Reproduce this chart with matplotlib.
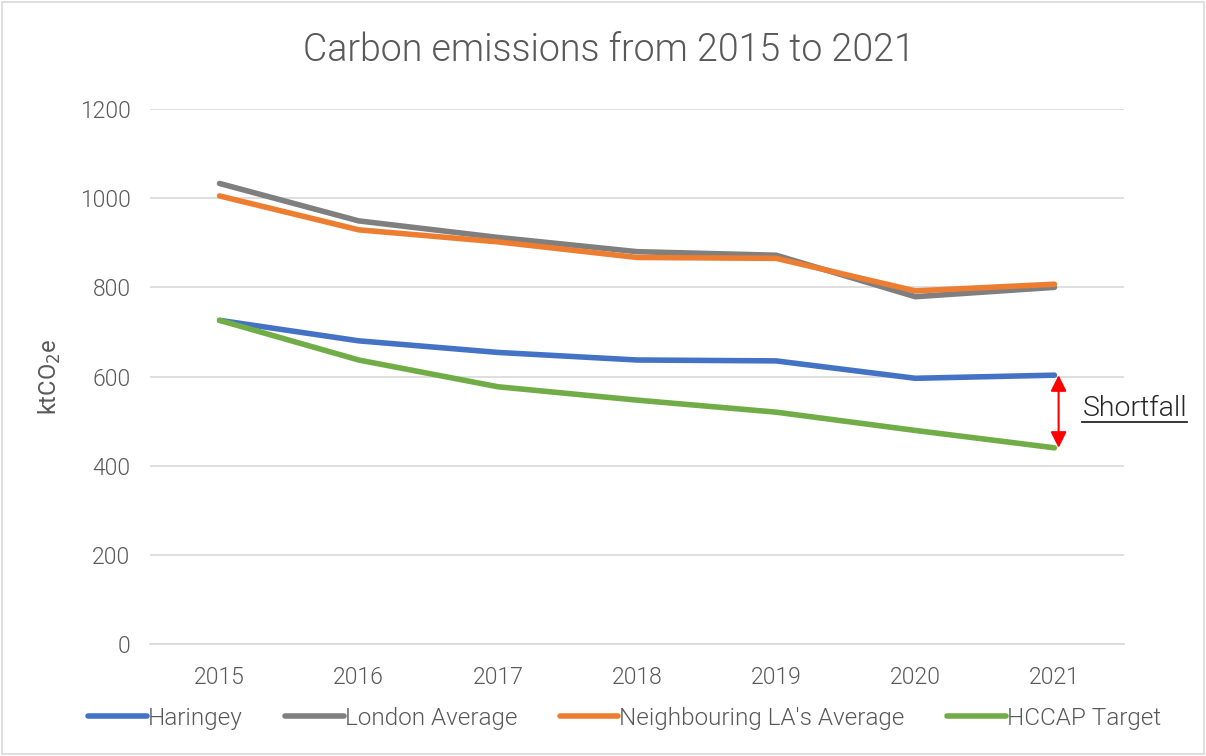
import matplotlib
matplotlib.use("Agg")
import matplotlib.pyplot as plt
from matplotlib.patches import Rectangle
from matplotlib.lines import Line2D

years = ["2015", "2016", "2017", "2018", "2019", "2020", "2021"]
haringey = [726, 680, 654, 637, 635, 596, 603]
london = [1033, 949, 912, 880, 872, 779, 800]
neighbouring = [1005, 929, 902, 867, 865, 792, 807]
hccap = [726, 637, 577, 547, 520, 479, 440]

series_names = ["Haringey", "London Average", "Neighbouring LA's Average", "HCCAP Target"]
colors = ["#4472C4", "#7F7F7F", "#ED7D31", "#70AD47"]
yticks = [0, 200, 400, 600, 800, 1000, 1200]

plt.rcParams['font.family'] = ['Roboto', 'Lato', 'DejaVu Sans']
plt.rcParams['font.weight'] = 300
txt = "#595959"

fig = plt.figure(figsize=(12.06, 7.56), dpi=100)
fig.patches.append(Rectangle((0.002, 0.002), 0.996, 0.996, transform=fig.transFigure,
                             fill=False, edgecolor="#d9d9d9", linewidth=1.2))
ax = fig.add_axes([150 / 1206, 1 - 644 / 756, (1124 - 150) / 1206, (644 - 109) / 756])

x = list(range(len(years)))
for vals, name, c in zip([haringey, london, neighbouring, hccap], series_names, colors):
    ax.plot(x, vals, color=c, linewidth=4.0, label=name, solid_capstyle='round')

ax.set_xlim(-0.5, len(years) - 0.5)
ax.set_ylim(0, 1200)
ax.set_yticks(yticks)
ax.set_yticklabels([str(v) for v in yticks])
ax.set_xticks(x)
ax.set_xticklabels(years)
ax.grid(axis='y', color="#d9d9d9", linewidth=1.2)
ax.set_axisbelow(True)
for s in ["top", "right", "left"]:
    ax.spines[s].set_visible(False)
ax.spines["bottom"].set_color("#d9d9d9")
ax.spines["bottom"].set_linewidth(1.2)
ax.tick_params(axis='y', length=0, labelsize=16.5, labelcolor=txt, pad=14)
ax.tick_params(axis='x', length=0, labelsize=16.5, labelcolor=txt, pad=16)

ax.set_ylabel("ktCO$_2$e", fontsize=17, color=txt, labelpad=12)
fig.text(0.505, 1 - 50 / 756, "Carbon emissions from 2015 to 2021", ha='center', va='center',
         fontsize=27, color=txt)

# Shortfall arrow
xa = len(years) - 1 + 0.03
ax.annotate("", xy=(xa, hccap[-1]), xytext=(xa, haringey[-1]),
            arrowprops=dict(arrowstyle="<|-|>", color="red", lw=1.5, mutation_scale=24,
                            shrinkA=0, shrinkB=0))
t = ax.text(len(years) - 1 + 0.2, (haringey[-1] + hccap[-1]) / 2 + 7, "Shortfall", fontsize=20.5,
            color="#262626", va='center', ha='left')
fig.canvas.draw()
bb = t.get_window_extent().transformed(fig.transFigure.inverted())
uy = 1 - 422 / 756
fig.add_artist(Line2D([bb.x0, bb.x1], [uy, uy], transform=fig.transFigure, color="#262626", lw=1.3))

fig.legend(loc='center', bbox_to_anchor=(0.518, 1 - 718 / 756), ncol=4, frameon=False,
           fontsize=17.5, handlelength=2.4, handletextpad=0.05, columnspacing=1.75,
           labelcolor=txt)

fig.savefig("out.png", dpi=100)
